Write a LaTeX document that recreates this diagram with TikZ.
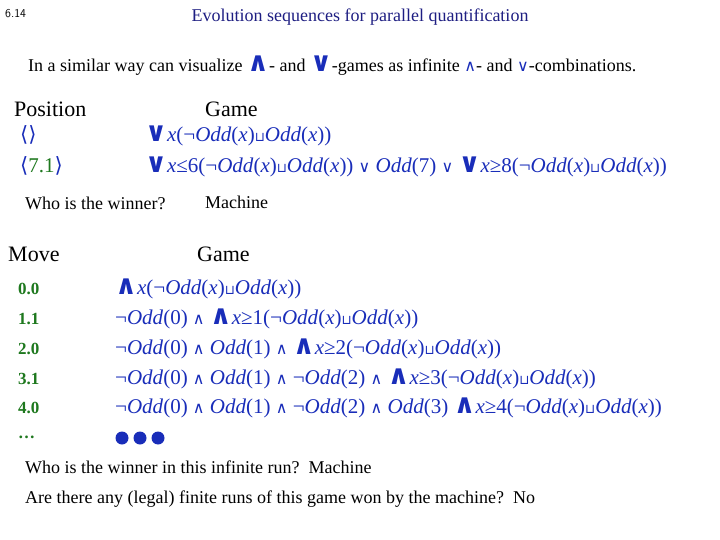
\documentclass[tikz,border=0pt]{standalone}
\usepackage{fontspec}
\setmainfont{Liberation Serif}
\newfontfamily\djv{DejaVu Sans}
\definecolor{fblue}{RGB}{25,45,185}
\definecolor{fgreen}{RGB}{30,120,30}
\definecolor{tblue}{RGB}{30,30,130}
\newcommand{\oddf}{\textit{Odd}}
\newcommand{\sqc}{{\djv\fontsize{13}{13}\selectfont ⊔}}
\newcommand{\BW}{{\djv\bfseries\fontsize{27}{27}\selectfont ∧}}
\newcommand{\BV}{{\djv\bfseries\fontsize{27}{27}\selectfont ∨}}
\newcommand{\sw}{{\djv\fontsize{16}{16}\selectfont ∧}}
\newcommand{\sv}{{\djv\fontsize{16}{16}\selectfont ∨}}
\newcommand{\la}{{\djv ⟨}}
\newcommand{\ra}{{\djv ⟩}}
\newcommand{\core}{(¬\oddf(\textit{x})\sqc\oddf(\textit{x}))}
\begin{document}
\begin{tikzpicture}[x=1pt,y=-1pt,
  txt/.style={anchor=base west,inner sep=0pt,font=\fontsize{18}{20}\selectfont},
  hd/.style={anchor=base west,inner sep=0pt,font=\fontsize{22}{24}\selectfont},
  fm/.style={anchor=base west,inner sep=0pt,text=fblue,font=\fontsize{21}{22}\selectfont},
  mv/.style={anchor=base west,inner sep=0pt,text=fgreen,font=\bfseries\fontsize{17}{20}\selectfont}]
\useasboundingbox (0,0) rectangle (720,540);
\node[anchor=base west,inner sep=0pt,font=\sffamily\fontsize{12}{12}\selectfont] (num) at (5,18) {6.14};
\node[anchor=base,inner sep=0pt,text=tblue,font=\fontsize{18}{20}\selectfont] (title) at (360,22) {Evolution sequences for parallel quantification};
\node[txt] (intro) at (28,72) {In a similar way can visualize \textcolor{fblue}{\BW}- and \textcolor{fblue}{\BV}-games as infinite \textcolor{fblue}{\sw}- and \textcolor{fblue}{\sv}-combinations.};
\node[hd] (pos) at (14,117) {Position};
\node[hd] (g1) at (205,117) {Game};
\node[fm] (p0) at (20,142) {\la\ra};
\node[fm] (f0) at (145,142) {\BV\textit{x}\core};
\node[fm] (p1) at (20,173) {\la\textcolor{fgreen}{7.1}\ra};
\node[fm] (f1) at (145,173) {\BV\textit{x}≤6\core{} \sv{} \oddf(7) \sv{} \BV\textit{x}≥8\core};
\node[txt] (who) at (25,210) {Who is the winner?};
\node[txt] (mach) at (205,208) {Machine};
\node[hd] (move) at (8,261) {Move};
\node[hd] (g2) at (197,261) {Game};
\node[mv] (m0) at (18,294) {0.0};
\node[fm] (r0) at (115,294) {\BW\textit{x}\core};
\node[mv] (m1) at (18,324) {1.1};
\node[fm] (r1) at (115,324) {¬\oddf(0) \sw{} \BW\textit{x}≥1\core};
\node[mv] (m2) at (18,354) {2.0};
\node[fm] (r2) at (115,354) {¬\oddf(0) \sw{} \oddf(1) \sw{} \BW\textit{x}≥2\core};
\node[mv] (m3) at (18,384) {3.1};
\node[fm] (r3) at (115,384) {¬\oddf(0) \sw{} \oddf(1) \sw{} ¬\oddf(2) \sw{} \BW\textit{x}≥3\core};
\node[mv] (m4) at (18,413) {4.0};
\node[fm] (r4) at (115,413) {¬\oddf(0) \sw{} \oddf(1) \sw{} ¬\oddf(2) \sw{} \oddf(3) \BW\textit{x}≥4\core};
\node[mv] (m5) at (18,438) {…};
\foreach \i in {0,1,2} \fill[fblue] (122+\i*18,438) circle (6.5);
\node[txt] (q1) at (25,473) {Who is the winner in this infinite run?\ \ Machine};
\node[txt] (q2) at (25,503) {Are there any (legal) finite runs of this game won by the machine?\ \ No};
\end{tikzpicture}
\end{document}
